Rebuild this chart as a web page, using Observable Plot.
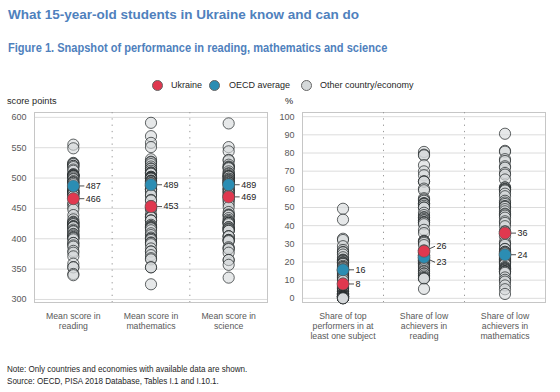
<!DOCTYPE html>
<html>
<head>
<meta charset="utf-8">
<script src="https://cdn.jsdelivr.net/npm/d3@7"></script>
<script src="https://cdn.jsdelivr.net/npm/@observablehq/plot@0.6"></script>
<style>
  body { margin: 0; background: #fff; }
  #wrap { position: relative; width: 560px; height: 392px; overflow: hidden; font-family: "Liberation Sans", Arial, sans-serif; background: #fff; }
  .abs { position: absolute; white-space: nowrap; line-height: 1; z-index: 2; }
  .narrow { transform-origin: 0 50%; }
  #title { left: 8px; top: 8px; font-size: 13.5px; font-weight: bold; color: #4f81bd; }
  #subtitle { left: 8px; top: 42px; font-size: 12.5px; font-weight: bold; color: #4f81bd; transform: scaleX(0.885); }
  .leg-dot { position: absolute; width: 11px; height: 11px; border-radius: 50%; box-sizing: border-box; border: 0.8px solid #666; top: 80px; z-index: 2; }
  .leg-txt { font-size: 9px; color: #262626; top: 81px; }
  .unit { font-size: 9.2px; color: #262626; top: 97px; }
  .foot { font-size: 9.4px; color: #262626; left: 7px; transform: scaleX(0.86); }
  .plot { position: absolute; top: 100px; z-index: 1; }
</style>
</head>
<body>
<div id="wrap">
  <div id="title" class="abs">What 15-year-old students in Ukraine know and can do</div>
  <div id="subtitle" class="abs narrow">Figure 1. Snapshot of performance in reading, mathematics and science</div>
  <div id="legend"></div>
  <div class="abs unit" style="left:7px;">score points</div>
  <div class="abs unit" style="left:285px;">%</div>
  <div id="left" class="plot" style="left:0px;"></div>
  <div id="right" class="plot" style="left:275px;"></div>
  <div class="abs foot narrow" style="top:364px;">Note: Only countries and economies with available data are shown.</div>
  <div class="abs foot narrow" style="top:376px;">Source: OECD, PISA 2018 Database, Tables I.1 and I.10.1.</div>
</div>
<script>
// ---------- DATA ----------
const scoreCategories = ["Mean score in\nreading", "Mean score in\nmathematics", "Mean score in\nscience"];
const shareCategories = ["Share of top\nperformers in at\nleast one subject", "Share of low\nachievers in\nreading", "Share of low\nachievers in\nmathematics"];

const scoreTicks = [300, 350, 400, 450, 500, 550, 600];
const shareTicks = [0, 10, 20, 30, 40, 50, 60, 70, 80, 90, 100];

const ukraineScores = [466, 453, 469];
const oecdScores = [487, 489, 489];
const ukraineShares = [7.9, 25.9, 35.9];
const oecdShares = [15.7, 22.6, 24.0];

const legendItems = ["Ukraine", "OECD average", "Other country/economy"];

const otherReading = [555,549,525,524,523,520,520,518,514,512,506,506,505,504,504,503,503,501,499,498,495,493,493,492,490,485,484,484,479,479,479,476,476,476,474,474,470,470,466,458,457,452,448,439,432,428,427,426,424,424,421,420,420,419,415,413,412,408,407,405,403,402,401,399,393,393,389,387,380,377,371,359,353,353,342,340];
const otherMath = [591,569,558,551,531,527,526,523,519,516,515,512,509,509,508,507,502,502,501,500,500,499,499,496,495,495,494,492,491,488,487,486,483,481,481,481,478,472,472,464,463,454,451,451,448,440,437,436,435,430,430,430,423,421,420,419,418,417,414,409,406,402,400,400,398,394,393,391,384,379,379,373,368,366,353,353,325];
const otherScience = [590,551,544,530,529,522,519,518,517,516,511,508,507,505,503,503,503,502,499,499,497,496,495,493,493,492,490,490,487,483,482,481,478,477,475,472,471,468,468,464,462,457,452,444,440,439,438,434,431,429,428,426,426,426,424,419,419,417,416,415,413,413,404,404,404,398,398,397,396,386,384,383,377,365,365,357,336];
const otherTopPerformers = [49.3,43.3,32.8,32.1,28.7,26.6,25.5,25.3,24.1,22.6,21.3,21.0,20.9,20.5,19.9,19.6,19.6,19.1,18.9,17.9,17.3,17.1,16.6,15.9,15.8,15.3,15.2,15.1,14.7,14.2,13.7,13.3,12.5,11.9,11.7,11.6,11.1,10.6,9.6,8.1,6.6,6.2,5.8,5.5,5.2,5.1,4.2,3.7,3.7,3.5,2.7,2.6,2.5,2.4,2.2,2.1,2.1,1.8,1.5,1.2,1.2,1.1,1.1,1.1,0.9,0.9,0.9,0.6,0.6,0.3,0.3,0.2,0.1,0.1,0.1,0.0];
const otherLowReading = [80.6,79.1,78.7,73.3,69.9,67.8,64.4,64.3,64.2,60.4,59.5,55.1,54.4,53.7,52.4,52.2,52.1,51.8,50.9,50.0,49.9,47.1,45.8,44.7,44.4,43.7,43.0,42.9,42.0,41.9,41.6,40.8,37.7,35.9,31.7,31.4,31.1,30.5,29.3,26.4,26.1,25.3,24.4,24.1,23.6,23.6,23.4,23.3,22.4,22.1,21.6,21.3,20.9,20.7,20.7,20.2,19.6,19.3,19.3,19.0,18.4,17.9,17.8,17.3,16.8,16.0,15.1,14.7,13.8,13.5,12.6,11.8,11.2,11.1,10.8,5.2];
const otherLowMath = [90.6,81.2,80.7,76.6,75.6,72.7,71.9,69.0,68.1,65.4,61.1,61.0,60.3,60.0,59.8,59.3,57.6,56.2,53.7,52.7,51.9,50.7,50.7,50.3,49.1,47.9,46.6,46.2,45.5,44.4,42.4,41.5,39.7,36.9,36.7,35.8,34.1,31.2,30.2,29.4,27.2,27.1,25.6,25.6,25.1,24.7,23.8,23.3,22.4,21.8,21.6,21.3,21.1,21.1,20.7,20.4,19.7,19.2,18.9,18.8,17.3,16.8,16.4,16.3,15.8,15.7,15.0,15.0,14.7,14.6,14.0,11.5,10.2,9.2,7.1,5.0,2.4];

// ---------- STYLE ----------
const colUkraine = "#e0384f";
const colOECD = "#2b8db3";
const colOther = "#d5d9da";
const fontFam = '"Liberation Sans", Arial, sans-serif';

// legend
(function () {
  const lg = document.getElementById("legend");
  const dotX = [152, 209, 301];
  const txtX = [171, 229, 320];
  const cols = [colUkraine, colOECD, colOther];
  legendItems.forEach((t, i) => {
    const d = document.createElement("div");
    d.className = "leg-dot";
    d.style.left = dotX[i] + "px";
    d.style.background = cols[i];
    lg.appendChild(d);
    const s = document.createElement("div");
    s.className = "abs leg-txt";
    s.style.left = txtX[i] + "px";
    s.textContent = t;
    lg.appendChild(s);
  });
})();

function panel({cats, series, ukr, oecd, domain, ticks, width, ml, mr}) {
  const height = 247, mt = 12, mb = 45;
  const plotH = height - mt - mb;
  const bandPx = (width - ml - mr) / cats.length;
  const unitsPerPx = (domain[1] - domain[0]) / plotH;
  const others = series.flatMap((arr, i) => arr.map(v => ({pos: i + 0.5, v})));
  const rows = [];
  cats.forEach((c, i) => {
    const u = ukr[i], o = oecd[i];
    let yu = u, yo = o;
    if (Math.abs(u - o) / unitsPerPx < 12) {
      const m = (u + o) / 2, s = u >= o ? 1 : -1;
      yu = m + s * 8 * unitsPerPx;
      yo = m - s * 8 * unitsPerPx;
    }
    rows.push({pos: i + 0.5, v: o, ly: yo, fill: colOECD});
    rows.push({pos: i + 0.5, v: u, ly: yu, fill: colUkraine});
  });
  const off = 11 / bandPx;
  return Plot.plot({
    width, height,
    marginTop: mt, marginBottom: mb, marginLeft: ml, marginRight: mr,
    style: {background: "transparent", overflow: "visible", fontFamily: fontFam, maxWidth: "none"},
    x: {domain: [0, cats.length]},
    y: {domain},
    marks: [
      Plot.gridY(ticks, {stroke: "#dcdcdc", strokeOpacity: 1}),
      Plot.frame({stroke: "#c6c6c6"}),
      Plot.ruleX(d3.range(1, cats.length), {stroke: "#9a9a9a", strokeDasharray: "1.3,5"}),
      Plot.axisY(ticks, {tickSize: 0, tickPadding: 8, fontSize: 9, fill: "#595959", label: null}),
      Plot.axisX(cats.map((c, i) => i + 0.5), {tickSize: 0, tickPadding: 9, tickFormat: d => cats[Math.floor(d)], fontSize: 8.7, lineHeight: 1.16, fill: "#595959", label: null}),
      Plot.dot(others, {x: "pos", y: "v", r: 5.6, fill: colOther, fillOpacity: 0.6, stroke: "#1f2526", strokeOpacity: 0.7, strokeWidth: 1}),
      Plot.link(rows, {x1: "pos", y1: "v", x2: d => d.pos + off, y2: "ly", stroke: "#222", strokeWidth: 0.8}),
      Plot.dot(rows, {x: "pos", y: "v", r: 6, fill: "fill", stroke: "#555", strokeWidth: 0.6}),
      Plot.text(rows, {x: d => d.pos + off, y: "ly", text: d => d3.format(".0f")(d.v), textAnchor: "start", dx: 1.5, fontSize: 9, fill: "#222"})
    ]
  });
}

document.getElementById("left").appendChild(panel({
  cats: scoreCategories,
  series: [otherReading, otherMath, otherScience],
  ukr: ukraineScores, oecd: oecdScores,
  domain: [295, 608], ticks: scoreTicks,
  width: 275, ml: 34, mr: 8
}));
document.getElementById("right").appendChild(panel({
  cats: shareCategories,
  series: [otherTopPerformers, otherLowReading, otherLowMath],
  ukr: ukraineShares, oecd: oecdShares,
  domain: [-2.3, 102.3], ticks: shareTicks,
  width: 285, ml: 27, mr: 15
}));
</script>
</body>
</html>
